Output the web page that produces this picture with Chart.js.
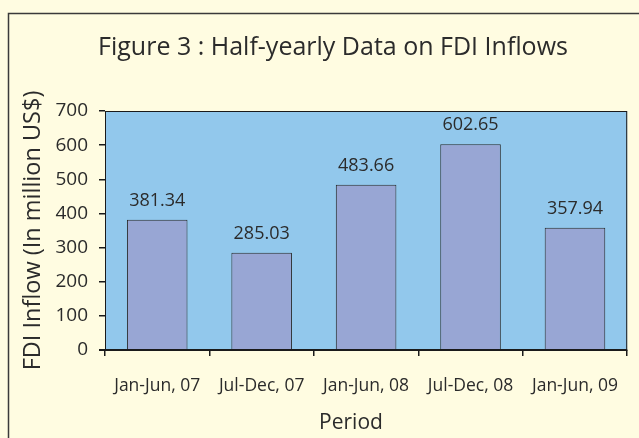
<!DOCTYPE html>
<html>
<head>
<meta charset="utf-8">
<script src="https://cdn.jsdelivr.net/npm/chart.js@4"></script>
<style>
  html, body { margin: 0; padding: 0; background: #fffce1; }
  #wrap { width: 639px; height: 438px; }
</style>
</head>
<body>
<div id="wrap"><canvas id="chart-1" width="639" height="438"></canvas></div>
<script>
const periods = ["Jan-Jun, 07", "Jul-Dec, 07", "Jan-Jun, 08", "Jul-Dec, 08", "Jan-Jun, 09"];
const inflows = [381.34, 285.03, 483.66, 602.65, 357.94];
const yTicks = [0, 100, 200, 300, 400, 500, 600, 700];

const FONT = "'Open Sans', 'DejaVu Sans', sans-serif";
const INK = "#2b2b2b";

// cream page with the dark frame, blue plot area with black box
const backdrop = {
  id: "backdrop",
  beforeDraw(chart) {
    const c = chart.ctx;
    const a = chart.chartArea;
    c.save();
    c.fillStyle = "#fffce1";
    c.fillRect(0, 0, chart.width, chart.height);
    c.strokeStyle = "#3a3a3a";
    c.lineWidth = 1.5;
    c.strokeRect(8.5, 13.5, chart.width + 20, chart.height + 20);
    c.fillStyle = "#92c8ec";
    c.fillRect(a.left, a.top, a.right - a.left, a.bottom - a.top);
    c.restore();
  },
  afterDraw(chart) {
    const c = chart.ctx;
    const a = chart.chartArea;
    c.save();
    c.strokeStyle = "#1a1a1a";
    c.lineWidth = 1;
    c.strokeRect(a.left + 0.5, a.top + 0.5, a.right - a.left - 1, a.bottom - a.top);
    c.lineWidth = 2;
    c.beginPath();
    c.moveTo(a.left - 6, a.bottom);
    c.lineTo(a.right, a.bottom);
    c.stroke();
    c.restore();
  },
};

// chart title and x axis title sit a little off the plot centre in the original
const captions = {
  id: "captions",
  afterDraw(chart) {
    const c = chart.ctx;
    c.save();
    c.fillStyle = INK;
    c.textAlign = "center";
    c.textBaseline = "middle";
    c.font = "25px " + FONT;
    c.fillText("Figure 3 : Half-yearly Data on FDI Inflows", 333, 48);
    c.font = "21px " + FONT;
    c.fillText("Period", 351, 423);
    c.restore();
  },
};

const valueLabels = {
  id: "valueLabels",
  afterDatasetsDraw(chart) {
    const c = chart.ctx;
    const meta = chart.getDatasetMeta(0);
    c.save();
    c.font = "18px " + FONT;
    c.fillStyle = INK;
    c.textAlign = "center";
    c.textBaseline = "middle";
    meta.data.forEach((bar, i) => {
      c.fillText(inflows[i].toFixed(2), bar.x, bar.y - 19);
    });
    c.restore();
  },
};

new Chart(document.getElementById("chart-1"), {
  type: "bar",
  data: {
    labels: periods,
    datasets: [
      {
        label: "FDI Inflow",
        data: inflows,
        backgroundColor: "#98a6d4",
        borderColor: "#2a2a2a",
        borderWidth: 1,
        categoryPercentage: 0.58,
        barPercentage: 1,
      },
    ],
  },
  options: {
    responsive: false,
    animation: false,
    layout: { padding: { left: 0, right: 10, top: 111, bottom: 0 } },
    plugins: {
      legend: { display: false },
      tooltip: { enabled: false },
      title: { display: false },
    },
    scales: {
      x: {
        offset: true,
        grid: {
          offset: true,
          drawOnChartArea: false,
          color: "#1a1a1a",
          tickLength: 6,
          lineWidth: 1.5,
        },
        border: { display: false },
        ticks: { color: INK, font: { family: FONT, size: 17.5 }, padding: 20, maxRotation: 0 },
        afterFit(scale) {
          scale.height = 88;
        },
      },
      y: {
        min: 0,
        max: 700,
        afterBuildTicks(scale) {
          scale.ticks = yTicks.map((v) => ({ value: v }));
        },
        grid: {
          drawOnChartArea: false,
          color: "#1a1a1a",
          tickLength: 6,
          lineWidth: 1.5,
        },
        border: { display: false },
        ticks: { color: INK, font: { family: FONT, size: 19 }, padding: 11 },
        title: {
          display: true,
          text: "FDI Inflow (In million US$)",
          color: INK,
          font: { family: FONT, size: 23.5 },
          padding: { top: 19, bottom: 0 },
        },
        afterFit(scale) {
          scale.width = 105;
        },
      },
    },
  },
  plugins: [backdrop, valueLabels, captions],
});
</script>
</body>
</html>
